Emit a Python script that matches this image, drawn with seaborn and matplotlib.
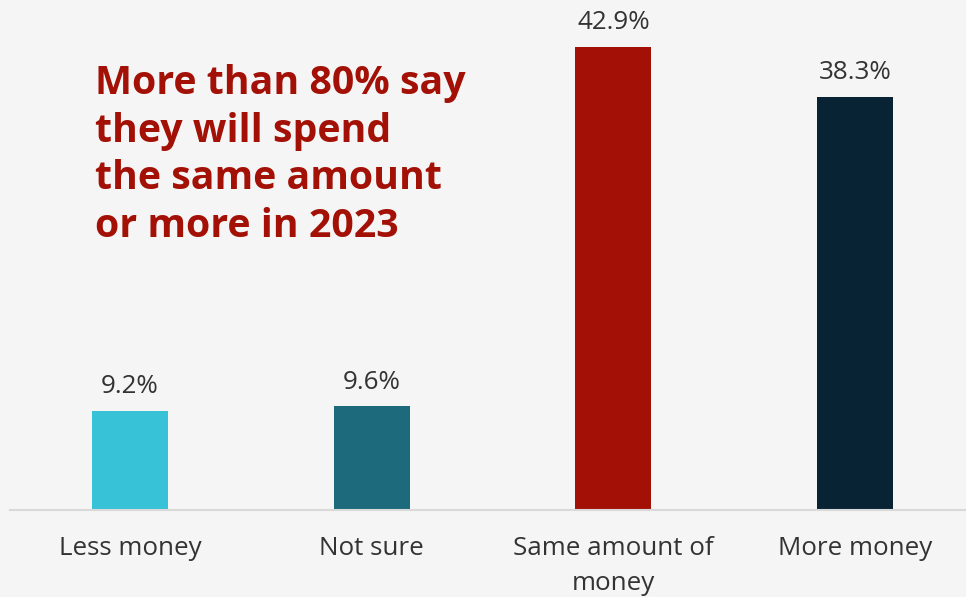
import matplotlib
matplotlib.use('Agg')
import matplotlib.pyplot as plt
import seaborn as sns
import pandas as pd

categories = ['Less money', 'Not sure', 'Same amount of\nmoney', 'More money']
shares = [9.2, 9.6, 42.9, 38.3]
colors = ['#38c2d8', '#1d6a7c', '#a31106', '#082333']
headline = 'More than 80% say\nthey will spend\nthe same amount\nor more in 2023'

bg = '#f5f5f5'
sns.set_style('white')
plt.rcParams['font.family'] = ['Open Sans', 'DejaVu Sans']

df = pd.DataFrame({'Answer': categories, 'Share': shares})

fig = plt.figure(figsize=(9.66, 5.97), dpi=100, facecolor=bg)
ax = fig.add_axes([10 / 966, 87 / 597, 956 / 966, 510 / 597])
ax.set_facecolor(bg)

sns.barplot(data=df, x='Answer', y='Share', hue='Answer', palette=colors,
            width=0.315, legend=False, ax=ax, saturation=1, linewidth=0)

for i, v in enumerate(shares):
    ax.text(i, v + 1.1, f'{v}%', ha='center', va='bottom', fontsize=18.7, color='#333333')

ax.set_xlim(-0.497, 3.459)
ax.set_ylim(0, 47.26)
ax.set_xlabel('')
ax.set_ylabel('')
ax.set_yticks([])
for side in ['top', 'right', 'left']:
    ax.spines[side].set_visible(False)
ax.spines['bottom'].set_color('#d9d9d9')
ax.spines['bottom'].set_linewidth(1.5)
ax.tick_params(axis='x', length=0, pad=19, labelsize=18.7, labelcolor='#333333')
for lbl in ax.get_xticklabels():
    lbl.set_linespacing(1.5)
    lbl.set_va('top')

fig.text(95 / 966, 1 - 64 / 597, headline, ha='left', va='top', fontsize=28.3,
         fontweight='bold', color='#a31106', linespacing=1.29)

fig.savefig('out.png', dpi=100, facecolor=bg)
